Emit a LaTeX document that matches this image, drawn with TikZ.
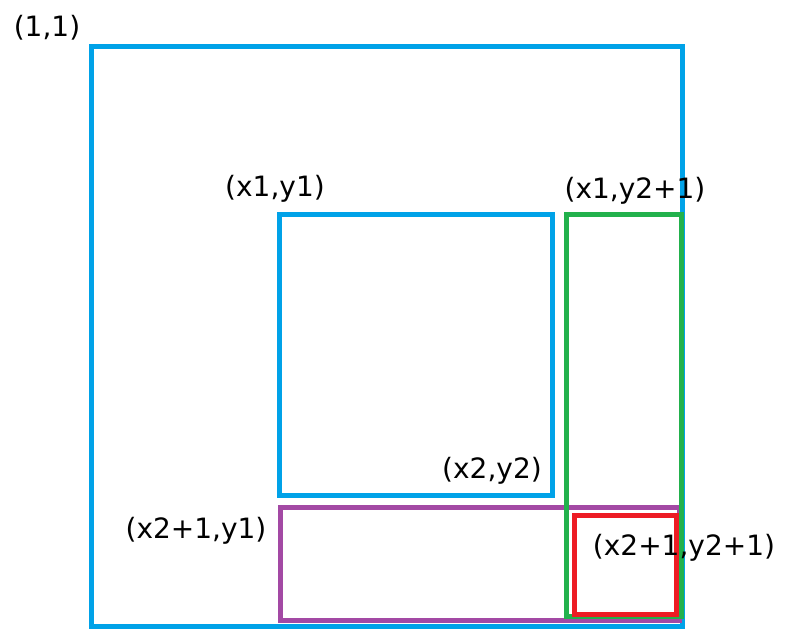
\documentclass[tikz,border=0pt]{standalone}
\usepackage{fontspec}
\setmainfont{DejaVu Sans}
\definecolor{boxblue}{RGB}{0,162,232}
\definecolor{boxgreen}{RGB}{34,177,76}
\definecolor{boxpurple}{RGB}{163,73,164}
\definecolor{boxred}{RGB}{237,28,36}
\tikzset{
  cell/.style={line width=5pt},
  corner/.style={font=\fontsize{28}{30}\selectfont, inner sep=0pt}
}
\begin{document}
\begin{tikzpicture}[x=1pt, y=-1pt, line join=miter]
  \useasboundingbox (0,0) rectangle (792,629);
  % whole grid and the query block
  \draw[cell,boxblue] (91,46) rectangle (682,626);
  \draw[cell,boxblue] (279,214) rectangle (552,495);
  % strips that get subtracted
  \draw[cell,boxpurple] (280,507) rectangle (679,620);
  \draw[cell,boxgreen] (566,214) rectangle (681,616);
  \draw[cell,boxred] (574,515) rectangle (676,614);
  % corner labels
  \node[corner] (one)  at (47,28)   {(1,1)};
  \node[corner] (tl)   at (275,189) {(x1,y1)};
  \node[corner] (tr)   at (635,191) {(x1,y2+1)};
  \node[corner] (br)   at (492,471) {(x2,y2)};
  \node[corner] (bl)   at (196,531) {(x2+1,y1)};
  \node[corner] (last) at (684,548) {(x2+1,y2+1)};
\end{tikzpicture}
\end{document}
